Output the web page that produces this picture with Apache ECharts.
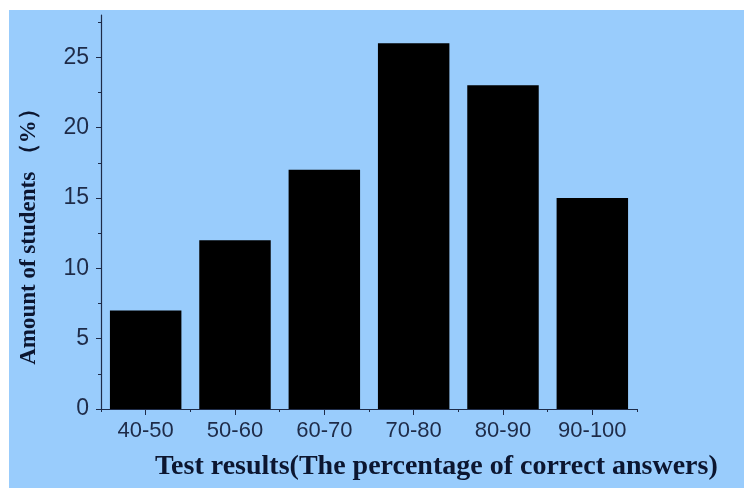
<!DOCTYPE html>
<html>
<head>
<meta charset="utf-8">
<script src="https://cdn.jsdelivr.net/npm/echarts@6/dist/echarts.min.js"></script>
<style>
html,body{margin:0;padding:0;background:#ffffff;}
#chart{position:absolute;left:9px;top:10px;width:735px;height:478px;}
</style>
</head>
<body>
<div id="chart"></div>
<script>
const categories = ['40-50', '50-60', '60-70', '70-80', '80-90', '90-100'];
const amounts = [7, 12, 17, 26, 23, 15];
const yTicks = [0, 5, 10, 15, 20, 25];
const xTitle = 'Test results(The percentage of correct answers)';
const yTitle = 'Amount of students （%）';

const textColor = '#1e2b48';
const chart = echarts.init(document.getElementById('chart'));
chart.setOption({
  backgroundColor: '#99ccfc',
  animation: false,
  grid: { left: 92, right: 107, top: 5, bottom: 79 },
  xAxis: [{
    type: 'category',
    data: categories,
    axisLine: { show: true, lineStyle: { color: textColor, width: 1.2 } },
    axisTick: { show: true, alignWithLabel: true, length: 6, lineStyle: { color: textColor } },
    axisLabel: { color: textColor, fontFamily: 'Liberation Sans', fontSize: 22, margin: 11, interval: 0, hideOverlap: false },
    splitLine: { show: false }
  }, {
    type: 'category',
    data: categories,
    position: 'bottom',
    axisLine: { show: false },
    axisTick: { show: true, alignWithLabel: false, length: 3, lineStyle: { color: textColor } },
    axisLabel: { show: false },
    splitLine: { show: false }
  }],
  yAxis: {
    type: 'value',
    min: 0,
    max: 28,
    interval: 5,
    axisLine: { show: true, lineStyle: { color: textColor, width: 1.2 } },
    axisTick: { show: true, length: 5, customValues: yTicks, lineStyle: { color: textColor } },
    minorTick: { show: true, splitNumber: 2, length: 3, lineStyle: { color: textColor } },
    axisLabel: { color: textColor, fontFamily: 'Liberation Sans', fontSize: 23, margin: 12, customValues: yTicks },
    splitLine: { show: false }
  },
  series: [{
    type: 'bar',
    data: amounts,
    xAxisIndex: 0,
    barWidth: '80%',
    itemStyle: { color: '#000000' }
  }],
  graphic: [{
    type: 'text',
    left: 146,
    top: 443,
    style: { text: xTitle, fill: '#0c1630', font: 'bold 28px "Liberation Serif"' }
  }, {
    type: 'text',
    x: 20,
    y: 221,
    rotation: Math.PI / 2,
    style: { text: yTitle, fill: '#0c1630', font: 'bold 23px "Liberation Serif"', align: 'center', verticalAlign: 'middle' }
  }]
});
</script>
</body>
</html>
